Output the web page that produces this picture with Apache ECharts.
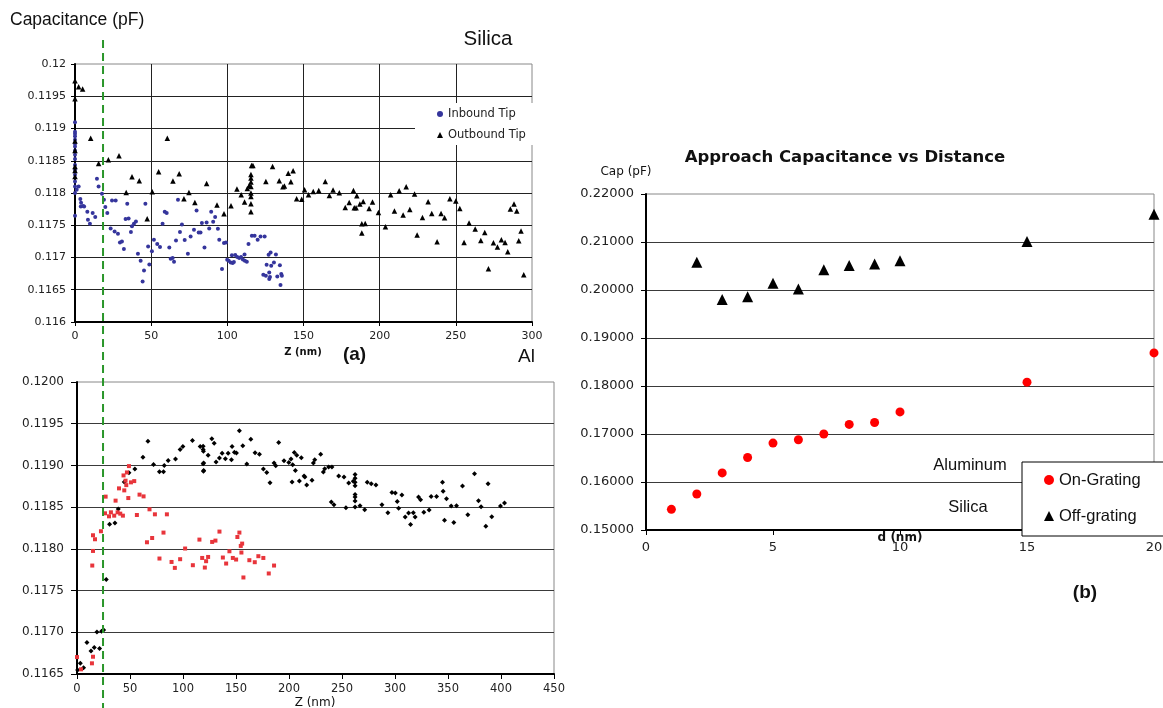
<!DOCTYPE html>
<html>
<head>
<meta charset="utf-8">
<script src="https://cdn.jsdelivr.net/npm/echarts@6/dist/echarts.min.js"></script>
<style>
  html, body { margin: 0; padding: 0; background: #fff; }
  #main { width: 1163px; height: 708px; }
</style>
</head>
<body>
<div id="main"></div>
<script>
// ---- Silica: capacitance vs tip height Z (nm) ----
const silicaInbound = [
  [0,0.119095],[0,0.11895],[0,0.118919],[0,0.118878],[0,0.118826],[0,0.118764],[0,0.118722],[0,0.11866],
  [0,0.118594],[0,0.118527],[0,0.118434],[0,0.118361],[0,0.118284],[0,0.11818],[0,0.118102],[0,0.118],[0,0.117648],
  [1.1,0.118051],[2.4,0.118102],[3.5,0.117907],[4.0,0.11785],[3.8,0.11779],[5.3,0.1178],[6.0,0.11779],
  [8.1,0.11771],[8.5,0.117586],[9.8,0.117524],[11.6,0.11769],[13.3,0.117628],[14.4,0.118222],[15.5,0.118102],
  [17.7,0.117989],[19,0.117896],[19.9,0.117783],[21.2,0.11769],[24.3,0.117885],[23.4,0.117451],[26,0.117405],
  [26.7,0.117885],[28.2,0.117369],[29.5,0.117234],[30.8,0.11725],[32.1,0.117132],[33.2,0.117597],[34.3,0.117834],
  [35.2,0.117606],[36.7,0.117395],[37.4,0.117483],[38.7,0.117524],[40,0.11756],[41.3,0.117059],[43.1,0.11695],
  [44.4,0.116629],[45.3,0.1168],[46.2,0.117834],[48,0.117172],[48.8,0.116893],[50.5,0.117095],[51.8,0.117276],
  [54,0.117209],[55.8,0.117163],[57.5,0.117524],[58.9,0.11771],[60.2,0.11769],[61.9,0.117156],[62.8,0.116981],
  [64.1,0.116992],[65,0.116935],[66.3,0.117265],[67.6,0.117896],[68.9,0.117395],[70.2,0.117513],[72,0.117271],
  [74.1,0.117059],[75.9,0.117327],[78.1,0.117431],[79.8,0.11773],[81.2,0.117389],[82.4,0.117389],[83.3,0.117535],
  [85,0.117156],[86.4,0.117544],[88.1,0.117451],[89.4,0.11771],[90.7,0.117555],[92,0.117628],[93.8,0.117447],
  [94.7,0.117276],[96.5,0.116822],[97.8,0.117225],[99.1,0.117234],[99.9,0.116966],[100.9,0.11695],[102.2,0.116924],
  [103.5,0.116915],[104.3,0.11693],[103,0.117033],[105.2,0.117039],[106.5,0.117008],[107.8,0.116992],[109,0.117008],
  [110.2,0.11697],[111.5,0.11695],[112.8,0.116935],[111.3,0.117048],[113.9,0.117209],[116.1,0.117338],[117.9,0.117338],
  [119.9,0.117276],[121.8,0.117327],[124.5,0.117327],[123.6,0.116733],[125.3,0.116718],[125.8,0.116888],[127.1,0.117043],
  [128.4,0.117079],[127.5,0.116769],[127.5,0.116667],[128,0.116698],[128.8,0.116873],[130.6,0.116924],[131.9,0.117048],
  [132.8,0.116707],[134.5,0.116878],[135.4,0.116744],[135.8,0.116718],[134.9,0.116574]
];
const silicaOutbound = [
  [0,0.11974],[0,0.119462],[0,0.118806],[0,0.11866],[0,0.118412],[0,0.11835],[0,0.118257],
  [2.4,0.119648],[5.0,0.119612],[10.3,0.118847],[15.5,0.118459],[21.9,0.118516],[28.9,0.118578],[33.6,0.118009],
  [37.4,0.118253],[42.2,0.118191],[47.4,0.117602],[50.7,0.11802],[54.9,0.11833],[60.6,0.118847],[64.3,0.118186],
  [68.4,0.118299],[71.5,0.117912],[74.8,0.118009],[78.7,0.117854],[86.4,0.118149],[93.2,0.117814],[97.8,0.117679],
  [102.4,0.117803],[106.3,0.118062],[109.1,0.117974],[111.3,0.11786],[113.1,0.118071],[114.4,0.118118],
  [115.5,0.118288],[115.5,0.118233],[115.5,0.118171],[115.5,0.118102],[115.5,0.118],[115.5,0.117947],
  [115.5,0.117834],[115.5,0.11771],[115.9,0.118428],[116.8,0.118428],[125.3,0.11818],[129.7,0.118412],
  [134.1,0.118191],[136.5,0.118098],[137.5,0.118108],[140,0.118307],[141.7,0.118175],[143.2,0.118346],
  [145.5,0.117912],[148.8,0.117905],[150.7,0.118051],[153.3,0.117974],[156.4,0.118025],[160,0.11804],
  [164.3,0.11818],[167,0.117963],[169.4,0.118045],[173.5,0.118005],[177.4,0.117777],[180,0.117854],
  [182.8,0.11804],[183.3,0.117772],[184.5,0.117772],[185,0.117958],[187,0.117829],[188.3,0.117524],
  [190.5,0.117529],[188.3,0.11738],[189.2,0.11787],[193.1,0.117761],[195.3,0.11786],[199.2,0.117699],
  [203.8,0.117478],[207.2,0.117974],[209.7,0.117721],[212.8,0.118036],[215.4,0.117659],[217.4,0.118097],
  [219.8,0.117746],[222.9,0.117984],[224.6,0.117349],[228.1,0.117622],[231.8,0.117865],[234.2,0.117684],
  [237.7,0.117245],[240.3,0.117684],[242.6,0.117617],[246.1,0.117912],[250,0.117876],[252.6,0.117761],
  [255.4,0.117234],[258.7,0.117535],[262.7,0.117442],[266.4,0.117265],[269,0.117389],[271.4,0.116826],
  [274.7,0.117229],[277.3,0.117163],[279.9,0.117276],[282.3,0.117234],[284.1,0.11709],[285.8,0.117752],
  [288.2,0.117829],[290,0.117721],[291.3,0.11726],[292.8,0.117411],[294.6,0.116733]
];

// ---- Al: capacitance vs tip height Z (nm) ----
const alBlack = [
  [0.6,0.116548],[3.1,0.116628],[6.2,0.116576],[9.4,0.116879],[13.2,0.116775],[16.3,0.116819],[18.8,0.117002],
  [21.3,0.116807],[23.2,0.117011],[25.1,0.117026],[27.6,0.117633],[30.7,0.118294],[35.8,0.11831],[38.9,0.118477],
  [44.6,0.1188],[49,0.118913],[54.6,0.118956],[62.2,0.119099],[66.9,0.119291],[72.2,0.119012],[77.8,0.118925],
  [81.6,0.118925],[82.3,0.119],[86,0.11906],[92.9,0.119076],[97.3,0.119191],[99.9,0.119227],[108.9,0.119299],
  [116.2,0.119227],[119,0.11923],[119,0.11919],[119.3,0.11917],[119.5,0.11903],[119,0.11902],[119.5,0.11894],
  [119.3,0.11893],[123.7,0.119123],[127.2,0.119319],[129.4,0.119267],[131.2,0.11904],[134.4,0.119088],
  [136.9,0.119147],[140,0.11908],[142.6,0.119147],[146.3,0.119227],[145.7,0.119068],[148.5,0.119159],
  [150.4,0.11915],[153.2,0.119415],[156.4,0.119236],[160.2,0.119016],[164,0.119315],[168,0.119152],
  [172.1,0.119135],[175.8,0.118956],[179,0.118916],[182.1,0.118793],[185.9,0.119028],[187.5,0.118996],
  [190.3,0.119275],[195.3,0.119056],[199.8,0.119036],[201.9,0.119076],[202.9,0.1188],[203.5,0.119008],
  [205,0.119156],[206,0.11894],[207.3,0.119123],[209.8,0.118812],[211.6,0.119092],[214.2,0.118872],
  [215,0.11886],[216.7,0.118764],[221.7,0.118821],[223,0.119028],[224.3,0.119068],[229.9,0.119135],
  [232.4,0.11892],[233.7,0.11896],[237.4,0.11898],[240.5,0.11898],[239.9,0.118561],[242.4,0.11853],
  [246.9,0.118872],[251.9,0.11886],[253.7,0.118494],[256.3,0.118788],[260.6,0.118809],[262.3,0.118892],
  [262.3,0.118845],[262.3,0.118797],[262.3,0.118757],[262.3,0.118653],[262.3,0.118621],[262.3,0.118573],
  [262.3,0.118501],[267,0.118518],[271.4,0.11847],[273.8,0.118797],[277.6,0.118781],[282,0.118764],
  [287.7,0.11853],[293.3,0.118434],[297.1,0.118677],[300.3,0.118669],[302.1,0.118569],[303.4,0.118486],
  [306.5,0.118645],[309.6,0.118382],[312.8,0.118429],[314.7,0.118291],[317.3,0.118434],[319,0.118382],
  [322.2,0.118621],[324.1,0.11859],[327.2,0.118438],[332.2,0.118465],[334.1,0.118629],[339.2,0.118629],
  [344.8,0.118797],[345.4,0.118689],[346.7,0.118342],[348.6,0.118602],[353,0.118513],[358,0.118518],
  [355.5,0.118315],[363.7,0.118752],[368.7,0.11841],[375,0.118901],[378.8,0.118578],[381.2,0.118506],
  [385.7,0.11827],[387.8,0.118781],[391.3,0.118386],[399.5,0.118513],[403.3,0.118549]
];
const alRed = [
  [0,0.116703],[3.8,0.116556],[14.1,0.116628],[15.1,0.116707],[14.4,0.1178],[15.1,0.117975],[15.1,0.118163],
  [17,0.118115],[22.6,0.118211],[26.4,0.118426],[27,0.118626],[30.2,0.11839],[32,0.118438],[35.1,0.118398],
  [36.4,0.118578],[38.3,0.118438],[39.6,0.118725],[40.8,0.118422],[43.3,0.118398],[43.9,0.11888],[44.6,0.118701],
  [45.8,0.118817],[46.5,0.118764],[47.1,0.118916],[48.4,0.118609],[49,0.118992],[50.9,0.118797],[54,0.118812],
  [56.5,0.118406],[59,0.11865],[62.8,0.118629],[66,0.118079],[68.4,0.118474],[70.9,0.11813],[73.5,0.118414],
  [77.8,0.117884],[81.6,0.118195],[84.8,0.118414],[89.2,0.117843],[92.3,0.117772],[97.3,0.117876],[102,0.118004],
  [109.3,0.117804],[115.5,0.118111],[118.1,0.117891],[120.6,0.117776],[121.8,0.117852],[123.7,0.117903],
  [127.5,0.118083],[130.6,0.118099],[134.4,0.118207],[137.6,0.117896],[140.7,0.117824],[143.8,0.117971],
  [147,0.117891],[150.1,0.117872],[151.3,0.118142],[153.2,0.118195],[154.5,0.118035],[155.8,0.118063],
  [155.1,0.117956],[157,0.117657],[162.6,0.117864],[167.7,0.11784],[171.1,0.117912],[175.8,0.117891],
  [180.9,0.117705],[185.9,0.1178]
];

// ---- Approach capacitance vs distance d (nm) ----
const approachD   = [1, 2, 3, 4, 5, 6, 7, 8, 9, 10, 15, 20];
const onGrating   = [0.1543, 0.1575, 0.1619, 0.1651, 0.1681, 0.1688, 0.1700, 0.1720, 0.1724, 0.1746, 0.1808, 0.1869];
const offD        = [2, 3, 4, 5, 6, 7, 8, 9, 10, 15, 20];
const offGrating  = [0.2058, 0.1980, 0.1986, 0.2014, 0.2002, 0.2042, 0.2051, 0.2054, 0.2061, 0.2101, 0.2158];

// Z at which the dashed boundary crosses the silica panel
const boundaryZ = 18.4;

const SANS = "'Liberation Sans', Arial, sans-serif";
const WIDE = "'DejaVu Sans', Verdana, sans-serif";

function valueAxis(gridIndex, min, max, interval, o) {
  return {
    gridIndex, type: 'value', min, max, interval,
    axisLine: { show: true, onZero: false, lineStyle: { color: '#000', width: 2 } },
    axisTick: { show: true, length: o.tickLen, lineStyle: { color: '#000', width: 1 } },
    axisLabel: { color: '#222', fontFamily: WIDE, fontSize: o.fontSize, margin: o.margin, formatter: o.formatter },
    splitLine: o.split ? { show: true, showMaxLine: false, lineStyle: { color: o.splitColor || '#333', width: 1 } } : { show: false }
  };
}

function scatter(name, axis, data, symbol, size, color) {
  return {
    name, type: 'scatter', xAxisIndex: axis, yAxisIndex: axis, data, symbol, symbolSize: size,
    itemStyle: { color, opacity: 1 }, emphasis: { disabled: true }
  };
}

const option = {
  backgroundColor: '#fff',
  animation: false,
  grid: [
    { left: 75, top: 64, width: 457, height: 258, show: true, borderColor: '#888', borderWidth: 1, outerBoundsMode: 'none' },
    { left: 77, top: 382, width: 477, height: 292, show: true, borderColor: '#888', borderWidth: 1, outerBoundsMode: 'none' },
    { left: 646, top: 194, width: 508, height: 336, show: true, borderColor: '#888', borderWidth: 1, outerBoundsMode: 'none' }
  ],
  xAxis: [
    valueAxis(0, 0, 300, 50, { tickLen: 4, fontSize: 11, margin: 9, split: true, splitColor: '#222' }),
    valueAxis(1, 0, 450, 50, { tickLen: 5, fontSize: 11.5, margin: 9, split: false }),
    valueAxis(2, 0, 20, 5, { tickLen: 5, fontSize: 13, margin: 11, split: false })
  ],
  yAxis: [
    valueAxis(0, 0.116, 0.12, 0.0005, { tickLen: 4, fontSize: 11, margin: 9, split: true, splitColor: '#222',
      formatter: v => String(parseFloat(v.toFixed(4))) }),
    valueAxis(1, 0.1165, 0.12, 0.0005, { tickLen: 6, fontSize: 12, margin: 13, split: true, splitColor: '#3a3a3a',
      formatter: v => v.toFixed(4) }),
    valueAxis(2, 0.15, 0.22, 0.01, { tickLen: 5, fontSize: 13, margin: 12, split: true, splitColor: '#3a3a3a',
      formatter: v => v.toFixed(5) })
  ],
  legend: [
    {
      data: ['Inbound Tip', 'Outbound Tip'], orient: 'vertical', left: 415, top: 103,
      padding: [4, 8, 3, 22], backgroundColor: '#fff', itemWidth: 6, itemHeight: 6, itemGap: 7,
      textStyle: { fontFamily: WIDE, fontSize: 11.5, color: '#222', lineHeight: 14 }
    },
    {
      data: ['On-Grating', 'Off-grating'], orient: 'vertical', left: 1022, top: 462,
      padding: [9, 25, 11, 22], backgroundColor: '#fff', borderColor: '#000', borderWidth: 1,
      itemWidth: 10, itemHeight: 10, itemGap: 18,
      textStyle: { fontFamily: SANS, fontSize: 16.5, color: '#111', lineHeight: 18 }
    }
  ],
  series: [
    scatter('Inbound Tip', 0, silicaInbound, 'circle', 4, '#35359c'),
    scatter('Outbound Tip', 0, silicaOutbound, 'triangle', 5.5, '#000'),
    scatter('Al retract', 1, alBlack, 'diamond', 5, '#000'),
    scatter('Al approach', 1, alRed, 'rect', 4, '#e8353b'),
    scatter('On-Grating', 2, approachD.map((d, i) => [d, onGrating[i]]), 'circle', 9, '#ff0000'),
    scatter('Off-grating', 2, offD.map((d, i) => [d, offGrating[i]]), 'triangle', 11, '#000')
  ]
};

const chart = echarts.init(document.getElementById('main'));
chart.setOption(option);

function label(x, y, text, font, size, extra) {
  return {
    type: 'text', x, y, z: 50, silent: true,
    style: Object.assign({ text, fontFamily: font, fontSize: size, fill: '#111',
      align: 'center', verticalAlign: 'middle' }, extra || {})
  };
}

// dashed boundary across both Z panels
const xBoundary = chart.convertToPixel({ gridIndex: 0 }, [boundaryZ, 0.116])[0];

chart.setOption({
  graphic: [
    label(10, 20, 'Capacitance (pF)', SANS, 17.5, { align: 'left' }),
    label(488, 39, 'Silica', SANS, 20.5),
    label(303, 352, 'Z (nm)', WIDE, 10, { fontWeight: 'bold' }),
    label(354.5, 355, '(a)', SANS, 19, { fontWeight: 'bold' }),
    label(526.5, 357, 'Al', SANS, 19),
    label(315, 703, 'Z (nm)', WIDE, 12),
    label(845, 158, 'Approach Capacitance vs Distance', WIDE, 16.5, { fontWeight: 'bold' }),
    label(626, 172, 'Cap (pF)', WIDE, 12),
    label(900, 538, 'd (nm)', WIDE, 12, { fontWeight: 'bold' }),
    label(970, 465, 'Aluminum', SANS, 16.5),
    label(968, 507, 'Silica', SANS, 16.5),
    label(1085, 593, '(b)', SANS, 19, { fontWeight: 'bold' }),
    {
      type: 'line', z: 60, silent: true,
      shape: { x1: xBoundary, y1: 40, x2: xBoundary, y2: 708 },
      style: { stroke: '#2a962a', lineWidth: 2, lineDash: [8, 5] }
    }
  ]
});
</script>
</body>
</html>
